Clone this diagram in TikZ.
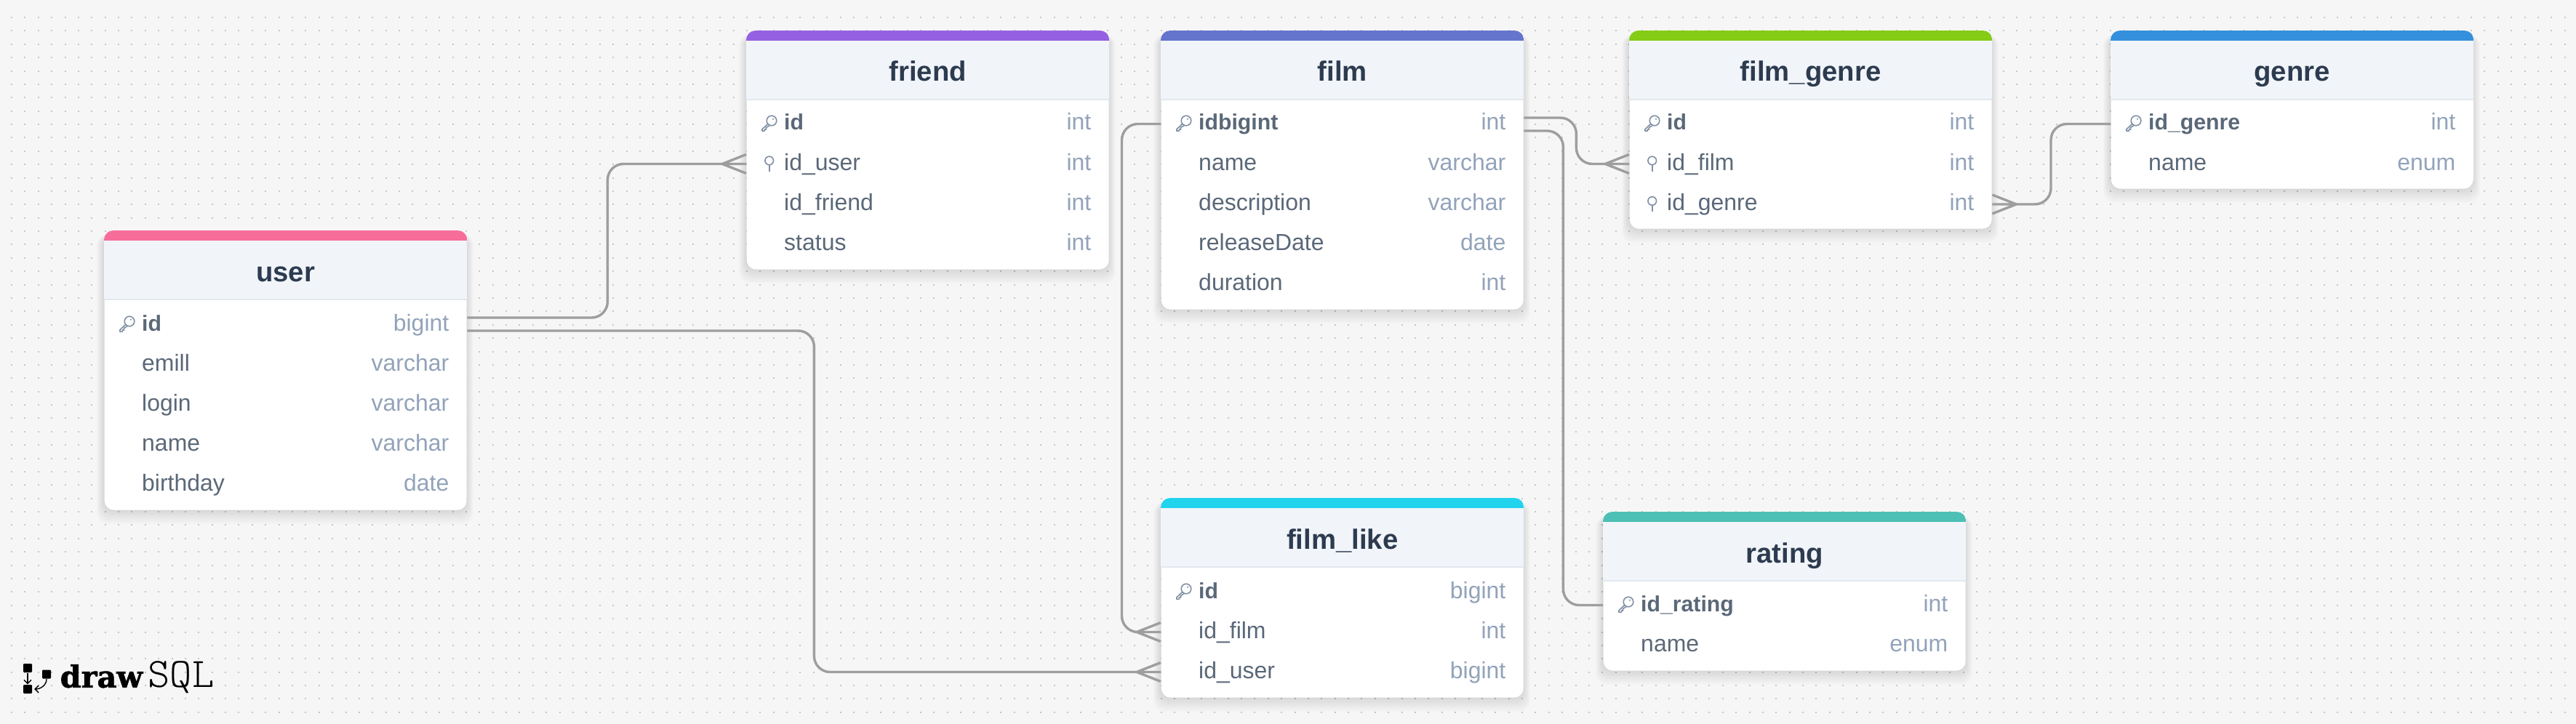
\documentclass[tikz,border=0pt]{standalone}
\usepackage{fontspec}
\usepackage{xcolor}
\usepackage{tikz}
\usetikzlibrary{arrows.meta, positioning}
\setmainfont{Liberation Sans}
\newfontfamily\logodraw[BoldFeatures={FakeBold=1.6}]{DejaVu Serif}
\newfontfamily\logosql{Latin Modern Mono Light}

\definecolor{canvas}{HTML}{F6F6F6}
\definecolor{griddot}{HTML}{C6C6C6}
\definecolor{headbg}{HTML}{F1F5F9}
\definecolor{headrule}{HTML}{E2E8F0}
\definecolor{titleink}{HTML}{2D3B50}
\definecolor{fieldink}{HTML}{5A6878}
\definecolor{typeink}{HTML}{92A3BA}
\definecolor{iconink}{HTML}{8090A4}
\definecolor{relink}{HTML}{9E9E9E}
\definecolor{barpink}{HTML}{F76D9A}
\definecolor{barpurple}{HTML}{9561E2}
\definecolor{barindigo}{HTML}{6574CD}
\definecolor{barlime}{HTML}{84CC16}
\definecolor{barblue}{HTML}{3490DC}
\definecolor{barcyan}{HTML}{22D3EE}
\definecolor{barteal}{HTML}{4DC0B5}

% name, left, top, height, colour, title
\newcommand{\dbtable}[6]{%
  \foreach \s in {1,...,10} {
    \fill[black, opacity=0.012, rounded corners=0.15cm]
      (#2-\s*0.01,#3-0.06) rectangle (#2+4.98+\s*0.01,#3-#4-\s*0.02);
  }
  \node[tablebody, minimum height=#4cm] (#1) at (#2,#3) {};
  \begin{scope}
    \clip[rounded corners=0.13cm] (#1.north west) rectangle (#1.south east);
    \fill[#5] (#1.north west) rectangle ([yshift=-0.14cm]#1.north east);
    \fill[headbg] ([yshift=-0.14cm]#1.north west) rectangle ([yshift=-0.95cm]#1.north east);
  \end{scope}
  \draw[headrule, line width=0.02cm] ([yshift=-0.95cm]#1.north west) -- ([yshift=-0.95cm]#1.north east);
  \node[tabletitle] (#1-title) at ([yshift=-0.70cm]#1.north) {#6};
}

\begin{document}
\begin{tikzpicture}[
    tablebody/.style={rectangle, fill=white, rounded corners=0.13cm, minimum width=4.98cm, inner sep=0pt, anchor=north west},
    tabletitle/.style={anchor=base, inner sep=0pt, text=titleink, font=\fontsize{10.9}{12}\selectfont\bfseries},
    field/.style={anchor=west, inner sep=0pt, text height=0.17cm, text depth=0cm, text=fieldink, font=\fontsize{9.1}{11}\selectfont},
    keyfield/.style={field, font=\fontsize{8.6}{11}\selectfont\bfseries},
    ftype/.style={anchor=east, inner sep=0pt, text height=0.17cm, text depth=0cm, text=typeink, font=\fontsize{9.1}{11}\selectfont},
    icon/.style={draw=iconink, line width=0.016cm},
    keyicon/.pic={
      \draw[icon, line join=round] (-0.165,0.045) circle (0.068);
      \draw[icon, line join=round] (-0.218,0.0) -- (-0.295,-0.072) -- (-0.295,-0.098) -- (-0.262,-0.098) -- (-0.262,-0.075) -- (-0.24,-0.075) -- (-0.24,-0.05) -- (-0.19,-0.018);
      \fill[iconink] (-0.145,0.068) circle (0.012);
    },
    pinicon/.pic={
      \draw[icon] (-0.198,0.045) circle (0.058);
      \draw[icon] (-0.198,-0.013) -- (-0.198,-0.105);
    },
    griddots/.style={griddot, line width=0.02cm, dash pattern=on 0.02cm off 0.1638cm},
    relation/.style={relink, line width=0.034cm, rounded corners=0.22cm},
    crowin/.style={insert path={++(-0.33,0) -- ++(0.33,0.13) ++(-0.33,-0.13) -- ++(0.33,-0.13)}},
    crowout/.style={insert path={++(0.33,0) -- ++(-0.33,0.13) ++(0.33,-0.13) -- ++(-0.33,-0.13)}},
    logobox/.style={rectangle, fill=black, rounded corners=0.012cm, minimum size=0.12cm, inner sep=0pt},
    logoline/.style={black, line width=0.014cm, -{Straight Barb[length=0.05cm, width=0.1cm]}}
]
\useasboundingbox (0,0) rectangle (35.42,-9.96);

% Canvas with dot grid
\fill[canvas] (0,0) rectangle (35.42,-9.96);
\foreach \r in {0,...,53} {
  \draw[griddots] (0.15,-0.24-\r*0.1838) -- ++(35.27,0);
}

% user
\dbtable{user}{1.43}{-3.17}{3.84}{barpink}{user}
\node[keyfield] (user-id) at (1.945,-4.465) {id};
\node[field] (user-emill) at (1.945,-5.015) {emill};
\node[field] (user-login) at (1.945,-5.565) {login};
\node[field] (user-name) at (1.945,-6.115) {name};
\node[field] (user-birthday) at (1.945,-6.665) {birthday};
\node[ftype] (user-id-t) at (6.18,-4.465) {bigint};
\node[ftype] (user-emill-t) at (6.18,-5.015) {varchar};
\node[ftype] (user-login-t) at (6.18,-5.565) {varchar};
\node[ftype] (user-name-t) at (6.18,-6.115) {varchar};
\node[ftype] (user-birthday-t) at (6.18,-6.665) {date};
\pic at (user-id.west) {keyicon};

% friend
\dbtable{friend}{10.26}{-0.42}{3.28}{barpurple}{friend}
\node[keyfield] (friend-id) at (10.775,-1.705) {id};
\node[field] (friend-iduser) at (10.775,-2.255) {id\_user};
\node[field] (friend-idfriend) at (10.775,-2.81) {id\_friend};
\node[field] (friend-status) at (10.775,-3.36) {status};
\node[ftype] (friend-id-t) at (15.01,-1.705) {int};
\node[ftype] (friend-iduser-t) at (15.01,-2.255) {int};
\node[ftype] (friend-idfriend-t) at (15.01,-2.81) {int};
\node[ftype] (friend-status-t) at (15.01,-3.36) {int};
\pic at (friend-id.west) {keyicon};
\pic at (friend-iduser.west) {pinicon};

% film
\dbtable{film}{15.96}{-0.42}{3.83}{barindigo}{film}
\node[keyfield] (film-id) at (16.475,-1.705) {idbigint};
\node[field] (film-name) at (16.475,-2.255) {name};
\node[field] (film-description) at (16.475,-2.81) {description};
\node[field] (film-release) at (16.475,-3.36) {releaseDate};
\node[field] (film-duration) at (16.475,-3.91) {duration};
\node[ftype] (film-id-t) at (20.71,-1.705) {int};
\node[ftype] (film-name-t) at (20.71,-2.255) {varchar};
\node[ftype] (film-description-t) at (20.71,-2.81) {varchar};
\node[ftype] (film-release-t) at (20.71,-3.36) {date};
\node[ftype] (film-duration-t) at (20.71,-3.91) {int};
\pic at (film-id.west) {keyicon};

% film_genre
\dbtable{filmgenre}{22.40}{-0.42}{2.72}{barlime}{film\_genre}
\node[keyfield] (filmgenre-id) at (22.915,-1.705) {id};
\node[field] (filmgenre-idfilm) at (22.915,-2.255) {id\_film};
\node[field] (filmgenre-idgenre) at (22.915,-2.81) {id\_genre};
\node[ftype] (filmgenre-id-t) at (27.15,-1.705) {int};
\node[ftype] (filmgenre-idfilm-t) at (27.15,-2.255) {int};
\node[ftype] (filmgenre-idgenre-t) at (27.15,-2.81) {int};
\pic at (filmgenre-id.west) {keyicon};
\pic at (filmgenre-idfilm.west) {pinicon};
\pic at (filmgenre-idgenre.west) {pinicon};

% genre
\dbtable{genre}{29.02}{-0.42}{2.17}{barblue}{genre}
\node[keyfield] (genre-id) at (29.535,-1.705) {id\_genre};
\node[field] (genre-name) at (29.535,-2.255) {name};
\node[ftype] (genre-id-t) at (33.77,-1.705) {int};
\node[ftype] (genre-name-t) at (33.77,-2.255) {enum};
\pic at (genre-id.west) {keyicon};

% film_like
\dbtable{filmlike}{15.96}{-6.85}{2.74}{barcyan}{film\_like}
\node[keyfield] (filmlike-id) at (16.475,-8.145) {id};
\node[field] (filmlike-idfilm) at (16.475,-8.695) {id\_film};
\node[field] (filmlike-iduser) at (16.475,-9.245) {id\_user};
\node[ftype] (filmlike-id-t) at (20.71,-8.145) {bigint};
\node[ftype] (filmlike-idfilm-t) at (20.71,-8.695) {int};
\node[ftype] (filmlike-iduser-t) at (20.71,-9.245) {bigint};
\pic at (filmlike-id.west) {keyicon};

% rating
\dbtable{rating}{22.04}{-7.04}{2.18}{barteal}{rating}
\node[keyfield] (rating-id) at (22.555,-8.325) {id\_rating};
\node[field] (rating-name) at (22.555,-8.875) {name};
\node[ftype] (rating-id-t) at (26.79,-8.325) {int};
\node[ftype] (rating-name-t) at (26.79,-8.875) {enum};
\pic at (rating-id.west) {keyicon};

% Relations
\draw[relation] ([yshift=0.095cm]user.east |- user-id) -- ++(1.93,0) |- (friend.west |- friend-iduser) [crowin];
\draw[relation] ([yshift=-0.085cm]user.east |- user-id) -- ++(4.77,0) |- (filmlike.west |- filmlike-iduser) [crowin];
\draw[relation] (film.west |- film-id) -- ++(-0.535,0) |- (filmlike.west |- filmlike-idfilm) [crowin];
\draw[relation] ([yshift=0.085cm]film.east |- film-id) -- ++(0.72,0) |- (filmgenre.west |- filmgenre-idfilm) [crowin];
\draw[relation] ([yshift=-0.095cm]film.east |- film-id) -- ++(0.54,0) |- (rating.west |- rating-id);
\draw[relation] (genre.west |- genre-id) -- ++(-0.82,0) |- (filmgenre.east |- filmgenre-idgenre) [crowout];

% Logo
\node[logobox] (logo-a) at (0.38,-9.19) {};
\node[logobox] (logo-b) at (0.38,-9.48) {};
\node[logobox] (logo-c) at (0.64,-9.275) {};
\draw[logoline] (logo-a.south) -- (logo-b.north);
\draw[logoline] (logo-c.south) to[out=270, in=0] ([xshift=0.025cm]logo-b.east);
\node[anchor=base west, inner sep=0pt, font=\fontsize{11.8}{12}\selectfont\logodraw\bfseries] (logo-draw) at (0.82,-9.457) {draw};
\node[anchor=base west, inner sep=0pt, font=\fontsize{16.4}{17}\selectfont\logosql] (logo-sql) at (2.03,-9.457) {SQL};

\end{tikzpicture}
\end{document}
